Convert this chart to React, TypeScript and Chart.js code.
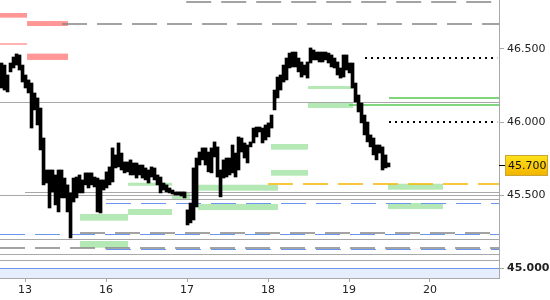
import React, { useEffect, useRef } from 'react';
import { Chart, registerables } from 'chart.js';

Chart.register(...registerables);

// ---- data ----
const dayLabels = ['13', '16', '17', '18', '19', '20'];
const yTickValues = [45.0, 45.5, 46.0, 46.5];
const xMin = -0.309;
const xMax = 5.852;
const yMin = 44.933;
const yMax = 46.835;

// intraday bars: evenly spaced in time
const barStart = -0.2901;
const barStep = 0.03704;
const barHighs = [
  46.404, 46.390, 46.322, 46.404, 46.445, 46.466, 46.459, 46.390, 46.322, 46.288,
  46.267, 46.199, 46.165, 46.096, 45.891, 45.672, 45.672, 45.672, 45.638, 45.672,
  45.672, 45.617, 45.570, 45.515, 45.617, 45.624, 45.638, 45.604, 45.652, 45.652,
  45.652, 45.624, 45.617, 45.604, 45.604, 45.659, 45.693, 45.823, 45.775, 45.857,
  45.788, 45.727, 45.727, 45.741, 45.720, 45.720, 45.706, 45.706, 45.686, 45.672,
  45.693, 45.686, 45.638, 45.624, 45.583, 45.570, 45.549, 45.535, 45.522, 45.522,
  45.522, 45.522, 45.399, 45.446, 45.686, 45.754, 45.795, 45.823, 45.823, 45.795,
  45.823, 45.864, 45.830, 45.672, 45.741, 45.754, 45.754, 45.843, 45.788, 45.898,
  45.891, 45.857, 45.843, 45.864, 45.959, 45.966, 45.966, 45.959, 45.980, 45.994,
  46.048, 46.219, 46.308, 46.322, 46.390, 46.438, 46.472, 46.479, 46.479, 46.438,
  46.411, 46.390, 46.411, 46.507, 46.493, 46.479, 46.479, 46.479, 46.479, 46.472,
  46.459, 46.438, 46.411, 46.370, 46.459, 46.459, 46.404, 46.404, 46.267, 46.185,
  46.130, 46.048, 46.000, 45.912, 45.891, 45.843, 45.843, 45.830, 45.775, 45.720,
];
const barLows = [
  46.233, 46.219, 46.206, 46.343, 46.370, 46.390, 46.356, 46.274, 46.233, 46.199,
  45.959, 46.083, 45.980, 45.809, 45.570, 45.583, 45.412, 45.522, 45.433, 45.385,
  45.481, 45.481, 45.385, 45.207, 45.453, 45.481, 45.515, 45.515, 45.570, 45.549,
  45.570, 45.556, 45.385, 45.378, 45.535, 45.549, 45.570, 45.590, 45.686, 45.693,
  45.672, 45.652, 45.659, 45.638, 45.638, 45.617, 45.638, 45.617, 45.604, 45.583,
  45.624, 45.604, 45.570, 45.515, 45.535, 45.522, 45.515, 45.508, 45.501, 45.501,
  45.494, 45.481, 45.296, 45.310, 45.330, 45.419, 45.706, 45.741, 45.706, 45.659,
  45.652, 45.761, 45.624, 45.488, 45.617, 45.624, 45.638, 45.652, 45.624, 45.672,
  45.795, 45.754, 45.720, 45.830, 45.857, 45.898, 45.932, 45.857, 45.877, 45.898,
  45.959, 46.083, 46.165, 46.219, 46.274, 46.288, 46.370, 46.377, 46.377, 46.343,
  46.308, 46.322, 46.301, 46.404, 46.425, 46.425, 46.411, 46.411, 46.425, 46.404,
  46.377, 46.370, 46.322, 46.301, 46.308, 46.356, 46.336, 46.233, 46.137, 46.069,
  45.994, 45.912, 45.864, 45.830, 45.775, 45.741, 45.788, 45.672, 45.686, 45.693,
];
const lastPrice = 45.7;

// zones: [startDay, endDay, upper, lower]
const redZones = [
  [-0.31, 0.025, 46.746, 46.714],
  [0.025, 0.531, 46.691, 46.657],
  [-0.31, 0.025, 46.539, 46.529],
  [0.025, 0.531, 46.468, 46.425],
];
const greenZones = [
  [0.679, 1.272, 45.371, 45.325],
  [0.679, 1.272, 45.186, 45.14],
  [1.272, 1.815, 45.585, 45.564],
  [1.272, 1.815, 45.405, 45.364],
  [1.815, 2.037, 45.519, 45.471],
  [2.136, 3.123, 45.571, 45.53],
  [2.136, 3.123, 45.439, 45.398],
  [3.037, 3.494, 45.85, 45.811],
  [3.037, 3.494, 45.672, 45.633],
  [3.494, 4.049, 46.247, 46.226],
  [3.494, 4.049, 46.13, 46.096],
  [4.481, 5.16, 45.578, 45.537],
  [4.481, 5.16, 45.446, 45.405],
];
// levels: [price, startDay]
const greySolidLevels = [
  [46.135, -0.31], [45.519, 0], [45.501, -0.31], [45.471, 1],
  [45.198, -0.31], [45.094, -0.31], [45.055, -0.31],
];
const greyDashedLevels = [[46.819, 1.99], [46.669, 0.457], [45.239, 0.679], [45.136, -0.31]];
const blueDashedLevels = [[45.446, 1], [45.232, -0.31], [45.129, 1]];
const orangeDashedLevels = [[45.576, 3.0]];
const greenLevels = [[46.162, 4.494], [46.115, 4.0]];
// dotted: [price, startDay, endDay]
const dottedLevels = [[46.44, 4.198, 5.83], [46.0, 4.494, 5.83]];
const baseLevel = 45.0;

const FONT = 'DejaVu Sans';

const levelsPlugin = {
  id: 'levels',
  beforeDatasetsDraw(chart: any) {
    const { ctx, chartArea, scales } = chart;
    const xs = scales.x;
    const ys = scales.y;
    const px = (v: number) => xs.getPixelForValue(v);
    const py = (v: number) => ys.getPixelForValue(v);
    ctx.save();
    ctx.beginPath();
    ctx.rect(chartArea.left, chartArea.top, chartArea.right - chartArea.left, chartArea.bottom - chartArea.top);
    ctx.clip();

    // base fill
    const yb = py(baseLevel);
    ctx.fillStyle = '#e6edfd';
    ctx.fillRect(chartArea.left, yb, chartArea.right - chartArea.left, chartArea.bottom - yb);

    const drawZones = (zones: number[][], color: string) => {
      ctx.fillStyle = color;
      zones.forEach(([a, b, hi, lo]) => {
        const x0 = px(a), x1 = px(b), y0 = py(hi), y1 = py(lo);
        ctx.fillRect(x0, y0, x1 - x0, y1 - y0);
      });
    };
    drawZones(redZones, '#ff9797');
    drawZones(greenZones, '#b4e8b4');

    const hline = (v: number, from: number, to: number | null, color: string, width: number, dash: number[]) => {
      const y = Math.round(py(v)) + (width % 2 === 1 ? 0.5 : 0);
      const x0 = Math.max(px(from), chartArea.left);
      const x1 = to === null ? chartArea.right : px(to);
      ctx.strokeStyle = color;
      ctx.lineWidth = width;
      ctx.setLineDash(dash);
      ctx.beginPath();
      ctx.moveTo(x0, y);
      ctx.lineTo(x1, y);
      ctx.stroke();
    };
    greySolidLevels.forEach(([v, s]) => hline(v, s, null, '#a8a8a8', 1, []));
    blueDashedLevels.forEach(([v, s]) => hline(v, s, null, '#6a96ee', 1, [25, 10]));
    greyDashedLevels.forEach(([v, s]) => hline(v, s, null, '#858585', 1.5, [25, 10]));
    orangeDashedLevels.forEach(([v, s]) => hline(v, s, null, '#f7b600', 1.5, [25, 10]));
    greenLevels.forEach(([v, s]) => hline(v, s, null, '#55c855', 1.5, []));
    dottedLevels.forEach(([v, s, e]) => hline(v, s, e, '#000000', 2, [2, 4]));
    hline(baseLevel, -0.31, null, '#6a96ee', 1, []);
    ctx.restore();
  },
};

const lastPricePlugin = {
  id: 'lastPrice',
  afterDraw(chart: any) {
    const { ctx, chartArea, scales } = chart;
    const y = scales.y.getPixelForValue(lastPrice);
    const x = chartArea.right;
    ctx.save();
    ctx.strokeStyle = '#000';
    ctx.lineWidth = 1;
    ctx.beginPath();
    ctx.moveTo(x, Math.round(y) - 0.5);
    ctx.lineTo(x + 6, Math.round(y) - 0.5);
    ctx.stroke();
    const bx = x + 6.5, by = Math.round(y) - 10.5, bw = 42, bh = 20;
    const g = ctx.createLinearGradient(0, by, 0, by + bh);
    g.addColorStop(0, '#ffe21a');
    g.addColorStop(1, '#f2b400');
    ctx.fillStyle = g;
    ctx.fillRect(bx, by, bw, bh);
    ctx.strokeStyle = '#c9a43a';
    ctx.strokeRect(bx, by, bw, bh);
    ctx.fillStyle = '#111';
    ctx.font = `11px "${FONT}"`;
    ctx.textBaseline = 'middle';
    ctx.textAlign = 'left';
    ctx.fillText(lastPrice.toFixed(3), bx + 2.5, by + bh / 2 + 0.5);
    ctx.restore();
  },
};

export default function App() {
  const ref = useRef<HTMLCanvasElement | null>(null);
  useEffect(() => {
    if (!ref.current) return;
    const data = barHighs.map((h, i) => ({ x: barStart + i * barStep, y: [barLows[i], h] }));
    const chart = new Chart(ref.current, {
      type: 'bar',
      data: {
        datasets: [
          {
            data: data as any,
            backgroundColor: '#000',
            borderWidth: 0,
            barThickness: 3,
            minBarLength: 2,
          } as any,
        ],
      },
      options: {
        animation: false,
        responsive: false,
        events: [],
        layout: { padding: 0 },
        plugins: { legend: { display: false }, tooltip: { enabled: false } },
        scales: {
          x: {
            type: 'linear',
            min: xMin,
            max: xMax,
            offset: false,
            afterBuildTicks: (s: any) => {
              s.ticks = dayLabels.map((_, i) => ({ value: i }));
            },
            afterFit: (s: any) => {
              s.height = 22;
              s.paddingLeft = 0;
              s.paddingRight = 0;
            },
            ticks: {
              autoSkip: false,
              maxRotation: 0,
              padding: 2,
              color: '#222',
              font: { family: FONT, size: 11 },
              callback: (v: any) => dayLabels[Math.round(Number(v))] ?? '',
            },
            grid: { offset: false, drawOnChartArea: false, drawTicks: true, tickLength: 4, color: '#a8a8a8' },
            border: { display: true, color: '#a8a8a8' },
          } as any,
          y: {
            type: 'linear',
            position: 'right',
            min: yMin,
            max: yMax,
            afterBuildTicks: (s: any) => {
              s.ticks = yTickValues.map((v) => ({ value: v }));
            },
            afterFit: (s: any) => {
              s.width = 51;
              s.paddingTop = 0;
              s.paddingBottom = 0;
            },
            ticks: {
              padding: 3,
              color: '#222',
              font: (c: any) => ({
                family: FONT,
                size: 11,
                weight: c.tick && c.tick.value === baseLevel ? 'bold' : 'normal',
              }),
              callback: (v: any) => Number(v).toFixed(3),
            },
            grid: { drawOnChartArea: false, drawTicks: true, tickLength: 5, color: '#a8a8a8' },
            border: { display: true, color: '#a8a8a8' },
          } as any,
        },
      },
      plugins: [levelsPlugin, lastPricePlugin],
    });
    return () => chart.destroy();
  }, []);
  return (
    <div style={{ position: 'fixed', left: 0, top: 0, width: 550, height: 300, background: '#fff' }}>
      <canvas ref={ref} width={550} height={300} style={{ display: 'block' }} />
    </div>
  );
}
